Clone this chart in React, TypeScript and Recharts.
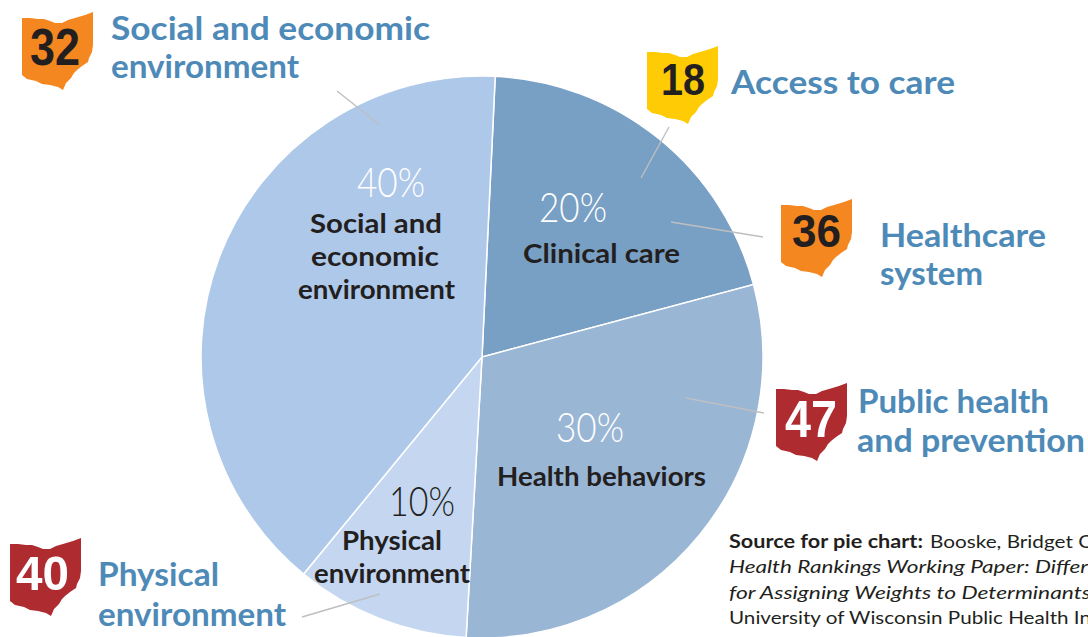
import React from "react";
import { PieChart, Pie, Cell } from "recharts";

const categories = ["Clinical care", "Health behaviors", "Physical environment", "Social and economic environment"];
const shares = [20, 30, 10, 40];
const drawnShares = [20.1, 30.05, 10.05, 39.8];
const sliceColors = ["#789FC4", "#9AB6D5", "#C5D7F0", "#AEC8E9"];
const scores = [32, 18, 36, 47, 40];
const scoreColors = ["#F58720", "#FFCB05", "#F58720", "#AE2B30", "#AE2B30"];
const scoreText = ["#231F20", "#231F20", "#231F20", "#FFFFFF", "#FFFFFF"];

const SANS = "Lato, 'Noto Sans', sans-serif";
const INK = "#231F20";
const BLUE = "#4E8AB8";

const OHIO = "M0 6 L8 6 L16 7 L22 7 L28 9 L33 11 L40 11 L46 8 L53 6 L63 3 L71 0 L71 33 L70 40 L67 46 L66 50 L60 54 L55 58 L52 61 L49 66 L44 71 L41 78 L36 75 L28 73 L20 72 L14 69 L5 67 L0 63 Z";
const ohioSpots = [[22, 12], [647, 46], [781, 199], [776, 383], [10, 538]];
const scoreBoxes = [[30, 65, 50, 51], [661, 95, 44, 45], [792, 247, 49, 46], [785, 437, 52, 51], [16, 590, 53, 49]];

const leaders = [
  [337, 91, 380, 125], [669, 127, 641, 178], [671, 222, 763, 237], [686, 398, 764, 413], [380, 594, 302, 617],
];

const blueLines: [string, number, number, number][] = [
  ["Social and economic", 111, 40, 319], ["environment", 111, 78, 188],
  ["Access to care", 731, 94, 224], ["Healthcare", 880, 247, 166], ["system", 880, 285, 103],
  ["Public health", 858, 413, 191], ["and prevention", 857, 452, 228],
  ["Physical", 98, 586, 121], ["environment", 98, 626, 188],
];

const darkLines: [string, number, number, number][] = [
  ["Social and", 310, 233, 132], ["economic", 311, 266, 128], ["environment", 298, 299, 157],
  ["Clinical care", 523, 263, 157], ["Health behaviors", 497, 486, 209],
  ["Physical", 342, 550, 100], ["environment", 314, 583, 156],
];

const percentSpots: [number, number, number, string][] = [
  [539, 222, 68, "#FFFFFF"], [556, 442, 68, "#FFFFFF"], [389, 516, 66, INK], [357, 197, 68, "#FFFFFF"],
];

const sourceLines: [string, number, number, number, string, number][] = [
  ["Source for pie chart:", 729, 548, 194, "normal", 700],
  ["Booske, Bridget C", 930, 548, 162, "normal", 400],
  ["Health Rankings Working Paper: Differ", 729, 573, 359, "italic", 400],
  ["for Assigning Weights to Determinants", 729, 599, 362, "italic", 400],
  ["University of Wisconsin Public Health In", 729, 624, 362, "normal", 400],
];

const sliceData = categories.map((name, i) => ({ name, value: drawnShares[i] }));

export default function App() {
  return (
    <div style={{ position: "absolute", left: 0, top: 0, width: 1088, height: 637, overflow: "hidden", background: "#fff" }}>
      <div style={{ position: "absolute", left: 0, top: 0 }}>
        <PieChart width={1088} height={637} margin={{ top: 0, right: 0, bottom: 0, left: 0 }}>
          <Pie
            data={sliceData}
            dataKey="value"
            nameKey="name"
            cx={482}
            cy={357}
            innerRadius={0}
            outerRadius={281}
            startAngle={87.3}
            endAngle={-272.7}
            stroke="#FFFFFF"
            strokeWidth={1.5}
            isAnimationActive={false}
          >
            {sliceData.map((d, i) => (
              <Cell key={d.name} fill={sliceColors[i]} />
            ))}
          </Pie>
        </PieChart>
      </div>
      <svg width={1088} height={637} style={{ position: "absolute", left: 0, top: 0 }}>
        {leaders.map((l, i) => (
          <line key={i} x1={l[0]} y1={l[1]} x2={l[2]} y2={l[3]} stroke="#BDBFC1" strokeWidth={1.4} />
        ))}
        {scores.map((s, i) => (
          <g key={i}>
            <path d={OHIO} transform={`translate(${ohioSpots[i][0]} ${ohioSpots[i][1]})`} fill={scoreColors[i]} />
            <text
              x={scoreBoxes[i][0]}
              y={scoreBoxes[i][1]}
              textLength={scoreBoxes[i][2]}
              lengthAdjust="spacingAndGlyphs"
              fontFamily="'Liberation Sans', sans-serif"
              fontWeight={700}
              fontSize={scoreBoxes[i][3]}
              fill={scoreText[i]}
            >
              {s}
            </text>
          </g>
        ))}
        {blueLines.map(([t, x, y, w], i) => (
          <text key={i} x={x} y={y} textLength={w} lengthAdjust="spacingAndGlyphs" fontFamily={SANS} fontWeight={700} fontSize={33} fill={BLUE}>
            {t}
          </text>
        ))}
        {darkLines.map(([t, x, y, w], i) => (
          <text key={i} x={x} y={y} textLength={w} lengthAdjust="spacingAndGlyphs" fontFamily={SANS} fontWeight={700} fontSize={26} fill={INK}>
            {t}
          </text>
        ))}
        {percentSpots.map(([x, y, w, c], i) => (
          <text key={i} x={x} y={y} textLength={w} lengthAdjust="spacingAndGlyphs" fontFamily={SANS} fontWeight={300} fontSize={42} fill={c}>
            {shares[i]}%
          </text>
        ))}
        {sourceLines.map(([t, x, y, w, st, fw], i) => (
          <text key={i} x={x} y={y} textLength={w} lengthAdjust="spacingAndGlyphs" fontFamily={SANS} fontStyle={st} fontWeight={fw} fontSize={18} fill={INK}>
            {t}
          </text>
        ))}
      </svg>
    </div>
  );
}
